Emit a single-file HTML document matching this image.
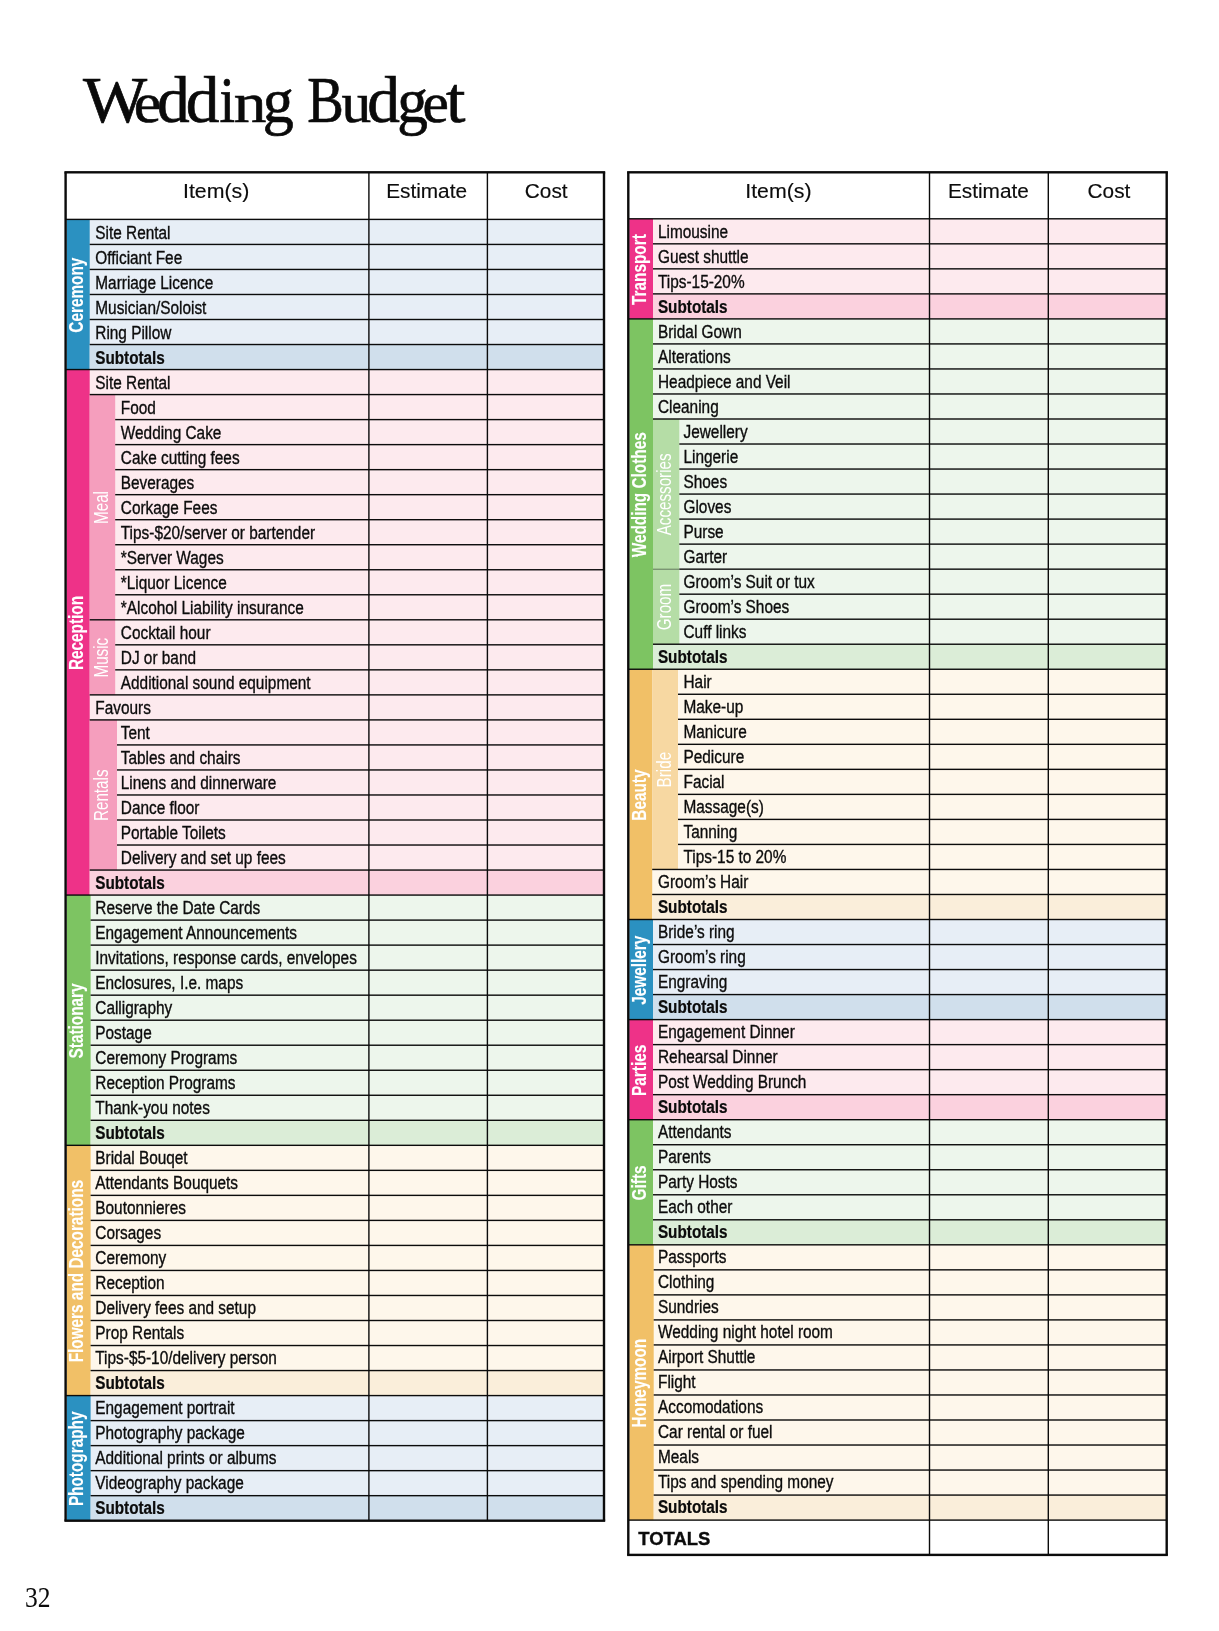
<!DOCTYPE html>
<html><head><meta charset="utf-8"><title>Wedding Budget</title>
<style>
html,body{margin:0;padding:0;background:#fff;}
body{width:1219px;height:1631px;overflow:hidden;font-family:"Liberation Sans",sans-serif;}
svg{display:block;will-change:transform;}
text{white-space:pre;}
</style></head><body>
<svg width="1219" height="1631" viewBox="0 0 1219 1631" font-family="'Liberation Sans', sans-serif">
<rect width="1219" height="1631" fill="#fff"/>
<g font-family="'Liberation Serif', serif" font-size="66" fill="#0a0a0a" stroke="#0a0a0a" stroke-width="0.7">
<text transform="translate(83.1,122.3) scale(1.03,1)">W</text>
<text transform="translate(133.63,122.3) scale(0.94,0.87)">e</text>
<text transform="translate(156.92,122.3) scale(0.99,1)">d</text>
<text transform="translate(185.76,122.3) scale(1.02,1)">d</text>
<text transform="translate(219.45,122.3) scale(0.85,1)">i</text>
<text transform="translate(233.71,122.3) scale(0.99,0.87)">n</text>
<text transform="translate(262.63,122.3) scale(0.94,0.95)">g</text>
<text transform="translate(307.17,122.3) scale(0.83,1)">B</text>
<text transform="translate(341.4,122.3) scale(0.9,0.87)">u</text>
<text transform="translate(367.32,122.3) scale(0.99,1)">d</text>
<text transform="translate(397.23,122.3) scale(0.93,0.95)">g</text>
<text transform="translate(422.6,122.3) scale(0.9,0.87)">e</text>
<text transform="translate(446,122.3) scale(1.06,1)">t</text>
</g>
<text transform="translate(24.9,1606.9) scale(0.88,1)" font-family="'Liberation Serif', serif" font-size="29" fill="#0a0a0a">32</text>
<text transform="translate(182.98,197.7) scale(1.065,1)" font-size="20" fill="#0c0c0c" stroke="#0c0c0c" stroke-width="0.15">Item(s)</text>
<text transform="translate(386.14,197.7) scale(1.04,1)" font-size="20" fill="#0c0c0c" stroke="#0c0c0c" stroke-width="0.15">Estimate</text>
<text transform="translate(524.86,197.7) scale(1.04,1)" font-size="20" fill="#0c0c0c" stroke="#0c0c0c" stroke-width="0.15">Cost</text>
<rect x="66.6" y="219.4" width="537.4" height="150.15" fill="#E7EEF6"/>
<rect x="66.6" y="219.4" width="23.1" height="150.15" fill="#2B91C1"/>
<rect x="89.7" y="344.52" width="514.3" height="25.02" fill="#D0DFEC"/>
<text transform="translate(83.1,295.17) rotate(-90) scale(0.775,1)" font-size="19.8" font-weight="bold" text-anchor="middle" fill="#fff" stroke="#fff" stroke-width="0.12">Ceremony</text>
<text transform="translate(95.3,238.7) scale(0.841,1)" font-size="18.3" fill="#0c0c0c" stroke="#0c0c0c" stroke-width="0.35">Site Rental</text>
<text transform="translate(95.3,263.7) scale(0.841,1)" font-size="18.3" fill="#0c0c0c" stroke="#0c0c0c" stroke-width="0.35">Officiant Fee</text>
<text transform="translate(95.3,288.71) scale(0.841,1)" font-size="18.3" fill="#0c0c0c" stroke="#0c0c0c" stroke-width="0.35">Marriage Licence</text>
<text transform="translate(95.3,313.71) scale(0.841,1)" font-size="18.3" fill="#0c0c0c" stroke="#0c0c0c" stroke-width="0.35">Musician/Soloist</text>
<text transform="translate(95.3,338.72) scale(0.841,1)" font-size="18.3" fill="#0c0c0c" stroke="#0c0c0c" stroke-width="0.35">Ring Pillow</text>
<text transform="translate(95.2,363.72) scale(0.836,1)" font-size="18.3" font-weight="bold" fill="#0c0c0c" stroke="#0c0c0c" stroke-width="0.25">Subtotals</text>
<rect x="66.6" y="369.55" width="537.4" height="525.52" fill="#FDEAEE"/>
<rect x="66.6" y="369.55" width="23.1" height="525.52" fill="#EE3288"/>
<rect x="89.7" y="870.05" width="514.3" height="25.02" fill="#FBD1DE"/>
<text transform="translate(83.1,633.01) rotate(-90) scale(0.775,1)" font-size="19.8" font-weight="bold" text-anchor="middle" fill="#fff" stroke="#fff" stroke-width="0.12">Reception</text>
<text transform="translate(95.3,388.73) scale(0.841,1)" font-size="18.3" fill="#0c0c0c" stroke="#0c0c0c" stroke-width="0.35">Site Rental</text>
<rect x="89.7" y="394.57" width="25.5" height="225.22" fill="#F59EBD"/>
<text transform="translate(108.05,507.49) rotate(-90) scale(0.749,1)" font-size="20.3" text-anchor="middle" fill="#fff" stroke="#fff" stroke-width="0">Meal</text>
<text transform="translate(120.8,413.74) scale(0.841,1)" font-size="18.3" fill="#0c0c0c" stroke="#0c0c0c" stroke-width="0.35">Food</text>
<text transform="translate(120.8,438.74) scale(0.841,1)" font-size="18.3" fill="#0c0c0c" stroke="#0c0c0c" stroke-width="0.35">Wedding Cake</text>
<text transform="translate(120.8,463.75) scale(0.841,1)" font-size="18.3" fill="#0c0c0c" stroke="#0c0c0c" stroke-width="0.35">Cake cutting fees</text>
<text transform="translate(120.8,488.75) scale(0.841,1)" font-size="18.3" fill="#0c0c0c" stroke="#0c0c0c" stroke-width="0.35">Beverages</text>
<text transform="translate(120.8,513.75) scale(0.841,1)" font-size="18.3" fill="#0c0c0c" stroke="#0c0c0c" stroke-width="0.35">Corkage Fees</text>
<text transform="translate(120.8,538.76) scale(0.841,1)" font-size="18.3" fill="#0c0c0c" stroke="#0c0c0c" stroke-width="0.35">Tips-$20/server or bartender</text>
<text transform="translate(120.8,563.76) scale(0.841,1)" font-size="18.3" fill="#0c0c0c" stroke="#0c0c0c" stroke-width="0.35">*Server Wages</text>
<text transform="translate(120.8,588.77) scale(0.841,1)" font-size="18.3" fill="#0c0c0c" stroke="#0c0c0c" stroke-width="0.35">*Liquor Licence</text>
<text transform="translate(120.8,613.77) scale(0.841,1)" font-size="18.3" fill="#0c0c0c" stroke="#0c0c0c" stroke-width="0.35">*Alcohol Liability insurance</text>
<rect x="89.7" y="619.8" width="25.5" height="75.07" fill="#F59EBD"/>
<text transform="translate(108.05,657.64) rotate(-90) scale(0.749,1)" font-size="20.3" text-anchor="middle" fill="#fff" stroke="#fff" stroke-width="0">Music</text>
<text transform="translate(120.8,638.78) scale(0.841,1)" font-size="18.3" fill="#0c0c0c" stroke="#0c0c0c" stroke-width="0.35">Cocktail hour</text>
<text transform="translate(120.8,663.78) scale(0.841,1)" font-size="18.3" fill="#0c0c0c" stroke="#0c0c0c" stroke-width="0.35">DJ or band</text>
<text transform="translate(120.8,688.79) scale(0.841,1)" font-size="18.3" fill="#0c0c0c" stroke="#0c0c0c" stroke-width="0.35">Additional sound equipment</text>
<text transform="translate(95.3,713.79) scale(0.841,1)" font-size="18.3" fill="#0c0c0c" stroke="#0c0c0c" stroke-width="0.35">Favours</text>
<rect x="89.7" y="719.9" width="27.3" height="150.15" fill="#F59EBD"/>
<text transform="translate(108.05,795.27) rotate(-90) scale(0.749,1)" font-size="20.3" text-anchor="middle" fill="#fff" stroke="#fff" stroke-width="0">Rentals</text>
<text transform="translate(120.8,738.8) scale(0.841,1)" font-size="18.3" fill="#0c0c0c" stroke="#0c0c0c" stroke-width="0.35">Tent</text>
<text transform="translate(120.8,763.81) scale(0.841,1)" font-size="18.3" fill="#0c0c0c" stroke="#0c0c0c" stroke-width="0.35">Tables and chairs</text>
<text transform="translate(120.8,788.81) scale(0.841,1)" font-size="18.3" fill="#0c0c0c" stroke="#0c0c0c" stroke-width="0.35">Linens and dinnerware</text>
<text transform="translate(120.8,813.82) scale(0.841,1)" font-size="18.3" fill="#0c0c0c" stroke="#0c0c0c" stroke-width="0.35">Dance floor</text>
<text transform="translate(120.8,838.82) scale(0.841,1)" font-size="18.3" fill="#0c0c0c" stroke="#0c0c0c" stroke-width="0.35">Portable Toilets</text>
<text transform="translate(120.8,863.83) scale(0.841,1)" font-size="18.3" fill="#0c0c0c" stroke="#0c0c0c" stroke-width="0.35">Delivery and set up fees</text>
<text transform="translate(95.2,888.83) scale(0.836,1)" font-size="18.3" font-weight="bold" fill="#0c0c0c" stroke="#0c0c0c" stroke-width="0.25">Subtotals</text>
<rect x="66.6" y="895.07" width="537.4" height="250.25" fill="#EDF6EC"/>
<rect x="66.6" y="895.07" width="24" height="250.25" fill="#7DC462"/>
<rect x="90.6" y="1120.3" width="513.4" height="25.02" fill="#DBEDD7"/>
<text transform="translate(83.1,1020.9) rotate(-90) scale(0.775,1)" font-size="19.8" font-weight="bold" text-anchor="middle" fill="#fff" stroke="#fff" stroke-width="0.12">Stationary</text>
<text transform="translate(95.3,913.84) scale(0.841,1)" font-size="18.3" fill="#0c0c0c" stroke="#0c0c0c" stroke-width="0.35">Reserve the Date Cards</text>
<text transform="translate(95.3,938.84) scale(0.841,1)" font-size="18.3" fill="#0c0c0c" stroke="#0c0c0c" stroke-width="0.35">Engagement Announcements</text>
<text transform="translate(95.3,963.85) scale(0.841,1)" font-size="18.3" fill="#0c0c0c" stroke="#0c0c0c" stroke-width="0.35">Invitations, response cards, envelopes</text>
<text transform="translate(95.3,988.85) scale(0.841,1)" font-size="18.3" fill="#0c0c0c" stroke="#0c0c0c" stroke-width="0.35">Enclosures, I.e. maps</text>
<text transform="translate(95.3,1013.86) scale(0.841,1)" font-size="18.3" fill="#0c0c0c" stroke="#0c0c0c" stroke-width="0.35">Calligraphy</text>
<text transform="translate(95.3,1038.86) scale(0.841,1)" font-size="18.3" fill="#0c0c0c" stroke="#0c0c0c" stroke-width="0.35">Postage</text>
<text transform="translate(95.3,1063.87) scale(0.841,1)" font-size="18.3" fill="#0c0c0c" stroke="#0c0c0c" stroke-width="0.35">Ceremony Programs</text>
<text transform="translate(95.3,1088.87) scale(0.841,1)" font-size="18.3" fill="#0c0c0c" stroke="#0c0c0c" stroke-width="0.35">Reception Programs</text>
<text transform="translate(95.3,1113.88) scale(0.841,1)" font-size="18.3" fill="#0c0c0c" stroke="#0c0c0c" stroke-width="0.35">Thank-you notes</text>
<text transform="translate(95.2,1138.88) scale(0.836,1)" font-size="18.3" font-weight="bold" fill="#0c0c0c" stroke="#0c0c0c" stroke-width="0.25">Subtotals</text>
<rect x="66.6" y="1145.33" width="537.4" height="250.25" fill="#FEF7EB"/>
<rect x="66.6" y="1145.33" width="24" height="250.25" fill="#F1C067"/>
<rect x="90.6" y="1370.55" width="513.4" height="25.02" fill="#FAEEDA"/>
<text transform="translate(83.1,1271.15) rotate(-90) scale(0.775,1)" font-size="19.8" font-weight="bold" text-anchor="middle" fill="#fff" stroke="#fff" stroke-width="0.12">Flowers and Decorations</text>
<text transform="translate(95.3,1163.88) scale(0.841,1)" font-size="18.3" fill="#0c0c0c" stroke="#0c0c0c" stroke-width="0.35">Bridal Bouqet</text>
<text transform="translate(95.3,1188.89) scale(0.841,1)" font-size="18.3" fill="#0c0c0c" stroke="#0c0c0c" stroke-width="0.35">Attendants Bouquets</text>
<text transform="translate(95.3,1213.89) scale(0.841,1)" font-size="18.3" fill="#0c0c0c" stroke="#0c0c0c" stroke-width="0.35">Boutonnieres</text>
<text transform="translate(95.3,1238.9) scale(0.841,1)" font-size="18.3" fill="#0c0c0c" stroke="#0c0c0c" stroke-width="0.35">Corsages</text>
<text transform="translate(95.3,1263.9) scale(0.841,1)" font-size="18.3" fill="#0c0c0c" stroke="#0c0c0c" stroke-width="0.35">Ceremony</text>
<text transform="translate(95.3,1288.91) scale(0.841,1)" font-size="18.3" fill="#0c0c0c" stroke="#0c0c0c" stroke-width="0.35">Reception</text>
<text transform="translate(95.3,1313.91) scale(0.841,1)" font-size="18.3" fill="#0c0c0c" stroke="#0c0c0c" stroke-width="0.35">Delivery fees and setup</text>
<text transform="translate(95.3,1338.92) scale(0.841,1)" font-size="18.3" fill="#0c0c0c" stroke="#0c0c0c" stroke-width="0.35">Prop Rentals</text>
<text transform="translate(95.3,1363.92) scale(0.841,1)" font-size="18.3" fill="#0c0c0c" stroke="#0c0c0c" stroke-width="0.35">Tips-$5-10/delivery person</text>
<text transform="translate(95.2,1388.93) scale(0.836,1)" font-size="18.3" font-weight="bold" fill="#0c0c0c" stroke="#0c0c0c" stroke-width="0.25">Subtotals</text>
<rect x="66.6" y="1395.58" width="537.4" height="125.12" fill="#E7EEF6"/>
<rect x="66.6" y="1395.58" width="24" height="125.12" fill="#2B91C1"/>
<rect x="90.6" y="1495.67" width="513.4" height="25.02" fill="#D0DFEC"/>
<text transform="translate(83.1,1458.84) rotate(-90) scale(0.775,1)" font-size="19.8" font-weight="bold" text-anchor="middle" fill="#fff" stroke="#fff" stroke-width="0.12">Photography</text>
<text transform="translate(95.3,1413.93) scale(0.841,1)" font-size="18.3" fill="#0c0c0c" stroke="#0c0c0c" stroke-width="0.35">Engagement portrait</text>
<text transform="translate(95.3,1438.94) scale(0.841,1)" font-size="18.3" fill="#0c0c0c" stroke="#0c0c0c" stroke-width="0.35">Photography package</text>
<text transform="translate(95.3,1463.94) scale(0.841,1)" font-size="18.3" fill="#0c0c0c" stroke="#0c0c0c" stroke-width="0.35">Additional prints or albums</text>
<text transform="translate(95.3,1488.95) scale(0.841,1)" font-size="18.3" fill="#0c0c0c" stroke="#0c0c0c" stroke-width="0.35">Videography package</text>
<text transform="translate(95.2,1513.95) scale(0.836,1)" font-size="18.3" font-weight="bold" fill="#0c0c0c" stroke="#0c0c0c" stroke-width="0.25">Subtotals</text>
<rect x="65.6" y="218.7" width="538.4" height="1.4" fill="#0b0b0b"/>
<rect x="89.7" y="243.73" width="514.3" height="1.4" fill="#0b0b0b"/>
<rect x="89.7" y="268.75" width="514.3" height="1.4" fill="#0b0b0b"/>
<rect x="89.7" y="293.78" width="514.3" height="1.4" fill="#0b0b0b"/>
<rect x="89.7" y="318.8" width="514.3" height="1.4" fill="#0b0b0b"/>
<rect x="89.7" y="343.82" width="514.3" height="1.4" fill="#0b0b0b"/>
<rect x="65.6" y="368.85" width="538.4" height="1.4" fill="#0b0b0b"/>
<rect x="89.7" y="393.87" width="514.3" height="1.4" fill="#0b0b0b"/>
<rect x="115.2" y="418.9" width="488.8" height="1.4" fill="#0b0b0b"/>
<rect x="115.2" y="443.92" width="488.8" height="1.4" fill="#0b0b0b"/>
<rect x="115.2" y="468.95" width="488.8" height="1.4" fill="#0b0b0b"/>
<rect x="115.2" y="493.97" width="488.8" height="1.4" fill="#0b0b0b"/>
<rect x="115.2" y="519" width="488.8" height="1.4" fill="#0b0b0b"/>
<rect x="115.2" y="544.02" width="488.8" height="1.4" fill="#0b0b0b"/>
<rect x="115.2" y="569.05" width="488.8" height="1.4" fill="#0b0b0b"/>
<rect x="115.2" y="594.07" width="488.8" height="1.4" fill="#0b0b0b"/>
<rect x="89.7" y="619.1" width="514.3" height="1.4" fill="#0b0b0b"/>
<rect x="115.2" y="644.12" width="488.8" height="1.4" fill="#0b0b0b"/>
<rect x="115.2" y="669.15" width="488.8" height="1.4" fill="#0b0b0b"/>
<rect x="89.7" y="694.17" width="514.3" height="1.4" fill="#0b0b0b"/>
<rect x="89.7" y="719.2" width="514.3" height="1.4" fill="#0b0b0b"/>
<rect x="117" y="744.22" width="487" height="1.4" fill="#0b0b0b"/>
<rect x="117" y="769.25" width="487" height="1.4" fill="#0b0b0b"/>
<rect x="117" y="794.27" width="487" height="1.4" fill="#0b0b0b"/>
<rect x="117" y="819.3" width="487" height="1.4" fill="#0b0b0b"/>
<rect x="117" y="844.32" width="487" height="1.4" fill="#0b0b0b"/>
<rect x="89.7" y="869.35" width="514.3" height="1.4" fill="#0b0b0b"/>
<rect x="65.6" y="894.37" width="538.4" height="1.4" fill="#0b0b0b"/>
<rect x="90.6" y="919.4" width="513.4" height="1.4" fill="#0b0b0b"/>
<rect x="90.6" y="944.42" width="513.4" height="1.4" fill="#0b0b0b"/>
<rect x="90.6" y="969.45" width="513.4" height="1.4" fill="#0b0b0b"/>
<rect x="90.6" y="994.47" width="513.4" height="1.4" fill="#0b0b0b"/>
<rect x="90.6" y="1019.5" width="513.4" height="1.4" fill="#0b0b0b"/>
<rect x="90.6" y="1044.52" width="513.4" height="1.4" fill="#0b0b0b"/>
<rect x="90.6" y="1069.55" width="513.4" height="1.4" fill="#0b0b0b"/>
<rect x="90.6" y="1094.57" width="513.4" height="1.4" fill="#0b0b0b"/>
<rect x="90.6" y="1119.6" width="513.4" height="1.4" fill="#0b0b0b"/>
<rect x="65.6" y="1144.62" width="538.4" height="1.4" fill="#0b0b0b"/>
<rect x="90.6" y="1169.65" width="513.4" height="1.4" fill="#0b0b0b"/>
<rect x="90.6" y="1194.67" width="513.4" height="1.4" fill="#0b0b0b"/>
<rect x="90.6" y="1219.7" width="513.4" height="1.4" fill="#0b0b0b"/>
<rect x="90.6" y="1244.72" width="513.4" height="1.4" fill="#0b0b0b"/>
<rect x="90.6" y="1269.75" width="513.4" height="1.4" fill="#0b0b0b"/>
<rect x="90.6" y="1294.77" width="513.4" height="1.4" fill="#0b0b0b"/>
<rect x="90.6" y="1319.8" width="513.4" height="1.4" fill="#0b0b0b"/>
<rect x="90.6" y="1344.83" width="513.4" height="1.4" fill="#0b0b0b"/>
<rect x="90.6" y="1369.85" width="513.4" height="1.4" fill="#0b0b0b"/>
<rect x="65.6" y="1394.88" width="538.4" height="1.4" fill="#0b0b0b"/>
<rect x="90.6" y="1419.9" width="513.4" height="1.4" fill="#0b0b0b"/>
<rect x="90.6" y="1444.92" width="513.4" height="1.4" fill="#0b0b0b"/>
<rect x="90.6" y="1469.95" width="513.4" height="1.4" fill="#0b0b0b"/>
<rect x="90.6" y="1494.97" width="513.4" height="1.4" fill="#0b0b0b"/>
<rect x="368.2" y="172.3" width="1.4" height="1348.4" fill="#0b0b0b"/>
<rect x="486.7" y="172.3" width="1.4" height="1348.4" fill="#0b0b0b"/>
<rect x="64.4" y="171.1" width="540.8" height="2.4" fill="#0b0b0b"/>
<rect x="64.4" y="1519.5" width="540.8" height="2.4" fill="#0b0b0b"/>
<rect x="64.4" y="172.3" width="2.4" height="1348.4" fill="#0b0b0b"/>
<rect x="602.8" y="172.3" width="2.4" height="1348.4" fill="#0b0b0b"/>
<text transform="translate(745.28,197.7) scale(1.065,1)" font-size="20" fill="#0c0c0c" stroke="#0c0c0c" stroke-width="0.15">Item(s)</text>
<text transform="translate(947.94,197.7) scale(1.04,1)" font-size="20" fill="#0c0c0c" stroke="#0c0c0c" stroke-width="0.15">Estimate</text>
<text transform="translate(1087.56,197.7) scale(1.04,1)" font-size="20" fill="#0c0c0c" stroke="#0c0c0c" stroke-width="0.15">Cost</text>
<rect x="629.3" y="218.8" width="537.4" height="100.1" fill="#FDEAEE"/>
<rect x="629.3" y="218.8" width="23.7" height="100.1" fill="#EE3288"/>
<rect x="653" y="293.88" width="513.7" height="25.02" fill="#FBD1DE"/>
<text transform="translate(645.8,269.55) rotate(-90) scale(0.775,1)" font-size="19.8" font-weight="bold" text-anchor="middle" fill="#fff" stroke="#fff" stroke-width="0.12">Transport</text>
<text transform="translate(658,237.5) scale(0.841,1)" font-size="18.3" fill="#0c0c0c" stroke="#0c0c0c" stroke-width="0.35">Limousine</text>
<text transform="translate(658,262.5) scale(0.841,1)" font-size="18.3" fill="#0c0c0c" stroke="#0c0c0c" stroke-width="0.35">Guest shuttle</text>
<text transform="translate(658,287.5) scale(0.841,1)" font-size="18.3" fill="#0c0c0c" stroke="#0c0c0c" stroke-width="0.35">Tips-15-20%</text>
<text transform="translate(657.9,312.5) scale(0.836,1)" font-size="18.3" font-weight="bold" fill="#0c0c0c" stroke="#0c0c0c" stroke-width="0.25">Subtotals</text>
<rect x="629.3" y="318.9" width="537.4" height="350.35" fill="#EDF6EC"/>
<rect x="629.3" y="318.9" width="23.7" height="350.35" fill="#7DC462"/>
<rect x="653" y="644.23" width="513.7" height="25.02" fill="#DBEDD7"/>
<text transform="translate(645.8,494.77) rotate(-90) scale(0.775,1)" font-size="19.8" font-weight="bold" text-anchor="middle" fill="#fff" stroke="#fff" stroke-width="0.12">Wedding Clothes</text>
<text transform="translate(658,337.5) scale(0.841,1)" font-size="18.3" fill="#0c0c0c" stroke="#0c0c0c" stroke-width="0.35">Bridal Gown</text>
<text transform="translate(658,362.5) scale(0.841,1)" font-size="18.3" fill="#0c0c0c" stroke="#0c0c0c" stroke-width="0.35">Alterations</text>
<text transform="translate(658,387.5) scale(0.841,1)" font-size="18.3" fill="#0c0c0c" stroke="#0c0c0c" stroke-width="0.35">Headpiece and Veil</text>
<text transform="translate(658,412.5) scale(0.841,1)" font-size="18.3" fill="#0c0c0c" stroke="#0c0c0c" stroke-width="0.35">Cleaning</text>
<rect x="653" y="419" width="26.3" height="150.15" fill="#B5DDA6"/>
<text transform="translate(671.35,494.38) rotate(-90) scale(0.749,1)" font-size="20.3" text-anchor="middle" fill="#fff" stroke="#fff" stroke-width="0">Accessories</text>
<text transform="translate(683.5,437.5) scale(0.841,1)" font-size="18.3" fill="#0c0c0c" stroke="#0c0c0c" stroke-width="0.35">Jewellery</text>
<text transform="translate(683.5,462.5) scale(0.841,1)" font-size="18.3" fill="#0c0c0c" stroke="#0c0c0c" stroke-width="0.35">Lingerie</text>
<text transform="translate(683.5,487.5) scale(0.841,1)" font-size="18.3" fill="#0c0c0c" stroke="#0c0c0c" stroke-width="0.35">Shoes</text>
<text transform="translate(683.5,512.5) scale(0.841,1)" font-size="18.3" fill="#0c0c0c" stroke="#0c0c0c" stroke-width="0.35">Gloves</text>
<text transform="translate(683.5,537.5) scale(0.841,1)" font-size="18.3" fill="#0c0c0c" stroke="#0c0c0c" stroke-width="0.35">Purse</text>
<text transform="translate(683.5,562.5) scale(0.841,1)" font-size="18.3" fill="#0c0c0c" stroke="#0c0c0c" stroke-width="0.35">Garter</text>
<rect x="653" y="569.15" width="26.3" height="75.07" fill="#B5DDA6"/>
<text transform="translate(671.35,606.99) rotate(-90) scale(0.749,1)" font-size="20.3" text-anchor="middle" fill="#fff" stroke="#fff" stroke-width="0">Groom</text>
<text transform="translate(683.5,587.5) scale(0.841,1)" font-size="18.3" fill="#0c0c0c" stroke="#0c0c0c" stroke-width="0.35">Groom’s Suit or tux</text>
<text transform="translate(683.5,612.5) scale(0.841,1)" font-size="18.3" fill="#0c0c0c" stroke="#0c0c0c" stroke-width="0.35">Groom’s Shoes</text>
<text transform="translate(683.5,637.5) scale(0.841,1)" font-size="18.3" fill="#0c0c0c" stroke="#0c0c0c" stroke-width="0.35">Cuff links</text>
<text transform="translate(657.9,662.5) scale(0.836,1)" font-size="18.3" font-weight="bold" fill="#0c0c0c" stroke="#0c0c0c" stroke-width="0.25">Subtotals</text>
<rect x="629.3" y="669.25" width="537.4" height="250.25" fill="#FEF7EB"/>
<rect x="629.3" y="669.25" width="22.9" height="250.25" fill="#F1C067"/>
<rect x="652.2" y="894.48" width="514.5" height="25.02" fill="#FAEEDA"/>
<text transform="translate(645.8,795.08) rotate(-90) scale(0.775,1)" font-size="19.8" font-weight="bold" text-anchor="middle" fill="#fff" stroke="#fff" stroke-width="0.12">Beauty</text>
<rect x="652.2" y="669.25" width="25.8" height="200.2" fill="#F7D8A2"/>
<text transform="translate(670.55,769.65) rotate(-90) scale(0.749,1)" font-size="20.3" text-anchor="middle" fill="#fff" stroke="#fff" stroke-width="0">Bride</text>
<text transform="translate(683.5,687.5) scale(0.841,1)" font-size="18.3" fill="#0c0c0c" stroke="#0c0c0c" stroke-width="0.35">Hair</text>
<text transform="translate(683.5,712.5) scale(0.841,1)" font-size="18.3" fill="#0c0c0c" stroke="#0c0c0c" stroke-width="0.35">Make-up</text>
<text transform="translate(683.5,737.5) scale(0.841,1)" font-size="18.3" fill="#0c0c0c" stroke="#0c0c0c" stroke-width="0.35">Manicure</text>
<text transform="translate(683.5,762.5) scale(0.841,1)" font-size="18.3" fill="#0c0c0c" stroke="#0c0c0c" stroke-width="0.35">Pedicure</text>
<text transform="translate(683.5,787.5) scale(0.841,1)" font-size="18.3" fill="#0c0c0c" stroke="#0c0c0c" stroke-width="0.35">Facial</text>
<text transform="translate(683.5,812.5) scale(0.841,1)" font-size="18.3" fill="#0c0c0c" stroke="#0c0c0c" stroke-width="0.35">Massage(s)</text>
<text transform="translate(683.5,837.5) scale(0.841,1)" font-size="18.3" fill="#0c0c0c" stroke="#0c0c0c" stroke-width="0.35">Tanning</text>
<text transform="translate(683.5,862.5) scale(0.841,1)" font-size="18.3" fill="#0c0c0c" stroke="#0c0c0c" stroke-width="0.35">Tips-15 to 20%</text>
<text transform="translate(658,887.5) scale(0.841,1)" font-size="18.3" fill="#0c0c0c" stroke="#0c0c0c" stroke-width="0.35">Groom’s Hair</text>
<text transform="translate(657.9,912.5) scale(0.836,1)" font-size="18.3" font-weight="bold" fill="#0c0c0c" stroke="#0c0c0c" stroke-width="0.25">Subtotals</text>
<rect x="629.3" y="919.5" width="537.4" height="100.1" fill="#E7EEF6"/>
<rect x="629.3" y="919.5" width="23.7" height="100.1" fill="#2B91C1"/>
<rect x="653" y="994.57" width="513.7" height="25.02" fill="#D0DFEC"/>
<text transform="translate(645.8,970.25) rotate(-90) scale(0.775,1)" font-size="19.8" font-weight="bold" text-anchor="middle" fill="#fff" stroke="#fff" stroke-width="0.12">Jewellery</text>
<text transform="translate(658,937.5) scale(0.841,1)" font-size="18.3" fill="#0c0c0c" stroke="#0c0c0c" stroke-width="0.35">Bride’s ring</text>
<text transform="translate(658,962.5) scale(0.841,1)" font-size="18.3" fill="#0c0c0c" stroke="#0c0c0c" stroke-width="0.35">Groom’s ring</text>
<text transform="translate(658,987.5) scale(0.841,1)" font-size="18.3" fill="#0c0c0c" stroke="#0c0c0c" stroke-width="0.35">Engraving</text>
<text transform="translate(657.9,1012.5) scale(0.836,1)" font-size="18.3" font-weight="bold" fill="#0c0c0c" stroke="#0c0c0c" stroke-width="0.25">Subtotals</text>
<rect x="629.3" y="1019.6" width="537.4" height="100.1" fill="#FDEAEE"/>
<rect x="629.3" y="1019.6" width="23.7" height="100.1" fill="#EE3288"/>
<rect x="653" y="1094.67" width="513.7" height="25.02" fill="#FBD1DE"/>
<text transform="translate(645.8,1070.35) rotate(-90) scale(0.775,1)" font-size="19.8" font-weight="bold" text-anchor="middle" fill="#fff" stroke="#fff" stroke-width="0.12">Parties</text>
<text transform="translate(658,1037.5) scale(0.841,1)" font-size="18.3" fill="#0c0c0c" stroke="#0c0c0c" stroke-width="0.35">Engagement Dinner</text>
<text transform="translate(658,1062.5) scale(0.841,1)" font-size="18.3" fill="#0c0c0c" stroke="#0c0c0c" stroke-width="0.35">Rehearsal Dinner</text>
<text transform="translate(658,1087.5) scale(0.841,1)" font-size="18.3" fill="#0c0c0c" stroke="#0c0c0c" stroke-width="0.35">Post Wedding Brunch</text>
<text transform="translate(657.9,1112.5) scale(0.836,1)" font-size="18.3" font-weight="bold" fill="#0c0c0c" stroke="#0c0c0c" stroke-width="0.25">Subtotals</text>
<rect x="629.3" y="1119.7" width="537.4" height="125.12" fill="#EDF6EC"/>
<rect x="629.3" y="1119.7" width="23.7" height="125.12" fill="#7DC462"/>
<rect x="653" y="1219.8" width="513.7" height="25.02" fill="#DBEDD7"/>
<text transform="translate(645.8,1182.96) rotate(-90) scale(0.775,1)" font-size="19.8" font-weight="bold" text-anchor="middle" fill="#fff" stroke="#fff" stroke-width="0.12">Gifts</text>
<text transform="translate(658,1137.5) scale(0.841,1)" font-size="18.3" fill="#0c0c0c" stroke="#0c0c0c" stroke-width="0.35">Attendants</text>
<text transform="translate(658,1162.5) scale(0.841,1)" font-size="18.3" fill="#0c0c0c" stroke="#0c0c0c" stroke-width="0.35">Parents</text>
<text transform="translate(658,1187.5) scale(0.841,1)" font-size="18.3" fill="#0c0c0c" stroke="#0c0c0c" stroke-width="0.35">Party Hosts</text>
<text transform="translate(658,1212.5) scale(0.841,1)" font-size="18.3" fill="#0c0c0c" stroke="#0c0c0c" stroke-width="0.35">Each other</text>
<text transform="translate(657.9,1237.5) scale(0.836,1)" font-size="18.3" font-weight="bold" fill="#0c0c0c" stroke="#0c0c0c" stroke-width="0.25">Subtotals</text>
<rect x="629.3" y="1244.82" width="537.4" height="275.28" fill="#FEF7EB"/>
<rect x="629.3" y="1244.82" width="24.4" height="275.28" fill="#F1C067"/>
<rect x="653.7" y="1495.07" width="513" height="25.02" fill="#FAEEDA"/>
<text transform="translate(645.8,1383.16) rotate(-90) scale(0.775,1)" font-size="19.8" font-weight="bold" text-anchor="middle" fill="#fff" stroke="#fff" stroke-width="0.12">Honeymoon</text>
<text transform="translate(658,1262.5) scale(0.841,1)" font-size="18.3" fill="#0c0c0c" stroke="#0c0c0c" stroke-width="0.35">Passports</text>
<text transform="translate(658,1287.5) scale(0.841,1)" font-size="18.3" fill="#0c0c0c" stroke="#0c0c0c" stroke-width="0.35">Clothing</text>
<text transform="translate(658,1312.5) scale(0.841,1)" font-size="18.3" fill="#0c0c0c" stroke="#0c0c0c" stroke-width="0.35">Sundries</text>
<text transform="translate(658,1337.5) scale(0.841,1)" font-size="18.3" fill="#0c0c0c" stroke="#0c0c0c" stroke-width="0.35">Wedding night hotel room</text>
<text transform="translate(658,1362.5) scale(0.841,1)" font-size="18.3" fill="#0c0c0c" stroke="#0c0c0c" stroke-width="0.35">Airport Shuttle</text>
<text transform="translate(658,1387.5) scale(0.841,1)" font-size="18.3" fill="#0c0c0c" stroke="#0c0c0c" stroke-width="0.35">Flight</text>
<text transform="translate(658,1412.5) scale(0.841,1)" font-size="18.3" fill="#0c0c0c" stroke="#0c0c0c" stroke-width="0.35">Accomodations</text>
<text transform="translate(658,1437.5) scale(0.841,1)" font-size="18.3" fill="#0c0c0c" stroke="#0c0c0c" stroke-width="0.35">Car rental or fuel</text>
<text transform="translate(658,1462.5) scale(0.841,1)" font-size="18.3" fill="#0c0c0c" stroke="#0c0c0c" stroke-width="0.35">Meals</text>
<text transform="translate(658,1487.5) scale(0.841,1)" font-size="18.3" fill="#0c0c0c" stroke="#0c0c0c" stroke-width="0.35">Tips and spending money</text>
<text transform="translate(657.9,1512.5) scale(0.836,1)" font-size="18.3" font-weight="bold" fill="#0c0c0c" stroke="#0c0c0c" stroke-width="0.25">Subtotals</text>
<text transform="translate(638.32,1544.5) scale(1.026,1)" font-size="18" font-weight="bold" fill="#0c0c0c" stroke="#0c0c0c" stroke-width="0.35">TOTALS</text>
<rect x="628.3" y="218.1" width="538.4" height="1.4" fill="#0b0b0b"/>
<rect x="653" y="243.13" width="513.7" height="1.4" fill="#0b0b0b"/>
<rect x="653" y="268.15" width="513.7" height="1.4" fill="#0b0b0b"/>
<rect x="653" y="293.18" width="513.7" height="1.4" fill="#0b0b0b"/>
<rect x="628.3" y="318.2" width="538.4" height="1.4" fill="#0b0b0b"/>
<rect x="653" y="343.22" width="513.7" height="1.4" fill="#0b0b0b"/>
<rect x="653" y="368.25" width="513.7" height="1.4" fill="#0b0b0b"/>
<rect x="653" y="393.27" width="513.7" height="1.4" fill="#0b0b0b"/>
<rect x="653" y="418.3" width="513.7" height="1.4" fill="#0b0b0b"/>
<rect x="679.3" y="443.32" width="487.4" height="1.4" fill="#0b0b0b"/>
<rect x="679.3" y="468.35" width="487.4" height="1.4" fill="#0b0b0b"/>
<rect x="679.3" y="493.37" width="487.4" height="1.4" fill="#0b0b0b"/>
<rect x="679.3" y="518.4" width="487.4" height="1.4" fill="#0b0b0b"/>
<rect x="679.3" y="543.42" width="487.4" height="1.4" fill="#0b0b0b"/>
<rect x="679.3" y="568.45" width="487.4" height="1.4" fill="#0b0b0b"/>
<rect x="653" y="568.8" width="26.3" height="0.7" fill="#3c4a38"/>
<rect x="679.3" y="593.47" width="487.4" height="1.4" fill="#0b0b0b"/>
<rect x="679.3" y="618.5" width="487.4" height="1.4" fill="#0b0b0b"/>
<rect x="653" y="643.52" width="513.7" height="1.4" fill="#0b0b0b"/>
<rect x="628.3" y="668.55" width="538.4" height="1.4" fill="#0b0b0b"/>
<rect x="678" y="693.57" width="488.7" height="1.4" fill="#0b0b0b"/>
<rect x="678" y="718.6" width="488.7" height="1.4" fill="#0b0b0b"/>
<rect x="678" y="743.62" width="488.7" height="1.4" fill="#0b0b0b"/>
<rect x="678" y="768.65" width="488.7" height="1.4" fill="#0b0b0b"/>
<rect x="678" y="793.67" width="488.7" height="1.4" fill="#0b0b0b"/>
<rect x="678" y="818.7" width="488.7" height="1.4" fill="#0b0b0b"/>
<rect x="678" y="843.72" width="488.7" height="1.4" fill="#0b0b0b"/>
<rect x="652.2" y="868.75" width="514.5" height="1.4" fill="#0b0b0b"/>
<rect x="652.2" y="893.77" width="514.5" height="1.4" fill="#0b0b0b"/>
<rect x="628.3" y="918.8" width="538.4" height="1.4" fill="#0b0b0b"/>
<rect x="653" y="943.82" width="513.7" height="1.4" fill="#0b0b0b"/>
<rect x="653" y="968.85" width="513.7" height="1.4" fill="#0b0b0b"/>
<rect x="653" y="993.87" width="513.7" height="1.4" fill="#0b0b0b"/>
<rect x="628.3" y="1018.9" width="538.4" height="1.4" fill="#0b0b0b"/>
<rect x="653" y="1043.92" width="513.7" height="1.4" fill="#0b0b0b"/>
<rect x="653" y="1068.95" width="513.7" height="1.4" fill="#0b0b0b"/>
<rect x="653" y="1093.97" width="513.7" height="1.4" fill="#0b0b0b"/>
<rect x="628.3" y="1119" width="538.4" height="1.4" fill="#0b0b0b"/>
<rect x="653" y="1144.03" width="513.7" height="1.4" fill="#0b0b0b"/>
<rect x="653" y="1169.05" width="513.7" height="1.4" fill="#0b0b0b"/>
<rect x="653" y="1194.08" width="513.7" height="1.4" fill="#0b0b0b"/>
<rect x="653" y="1219.1" width="513.7" height="1.4" fill="#0b0b0b"/>
<rect x="628.3" y="1244.12" width="538.4" height="1.4" fill="#0b0b0b"/>
<rect x="653.7" y="1269.15" width="513" height="1.4" fill="#0b0b0b"/>
<rect x="653.7" y="1294.17" width="513" height="1.4" fill="#0b0b0b"/>
<rect x="653.7" y="1319.2" width="513" height="1.4" fill="#0b0b0b"/>
<rect x="653.7" y="1344.22" width="513" height="1.4" fill="#0b0b0b"/>
<rect x="653.7" y="1369.25" width="513" height="1.4" fill="#0b0b0b"/>
<rect x="653.7" y="1394.27" width="513" height="1.4" fill="#0b0b0b"/>
<rect x="653.7" y="1419.3" width="513" height="1.4" fill="#0b0b0b"/>
<rect x="653.7" y="1444.32" width="513" height="1.4" fill="#0b0b0b"/>
<rect x="653.7" y="1469.35" width="513" height="1.4" fill="#0b0b0b"/>
<rect x="653.7" y="1494.37" width="513" height="1.4" fill="#0b0b0b"/>
<rect x="628.3" y="1519.4" width="538.4" height="1.4" fill="#0b0b0b"/>
<rect x="928.8" y="172.3" width="1.4" height="1382.6" fill="#0b0b0b"/>
<rect x="1047.6" y="172.3" width="1.4" height="1382.6" fill="#0b0b0b"/>
<rect x="627.1" y="171.1" width="540.8" height="2.4" fill="#0b0b0b"/>
<rect x="627.1" y="1553.7" width="540.8" height="2.4" fill="#0b0b0b"/>
<rect x="627.1" y="172.3" width="2.4" height="1382.6" fill="#0b0b0b"/>
<rect x="1165.5" y="172.3" width="2.4" height="1382.6" fill="#0b0b0b"/>
</svg>
</body></html>
